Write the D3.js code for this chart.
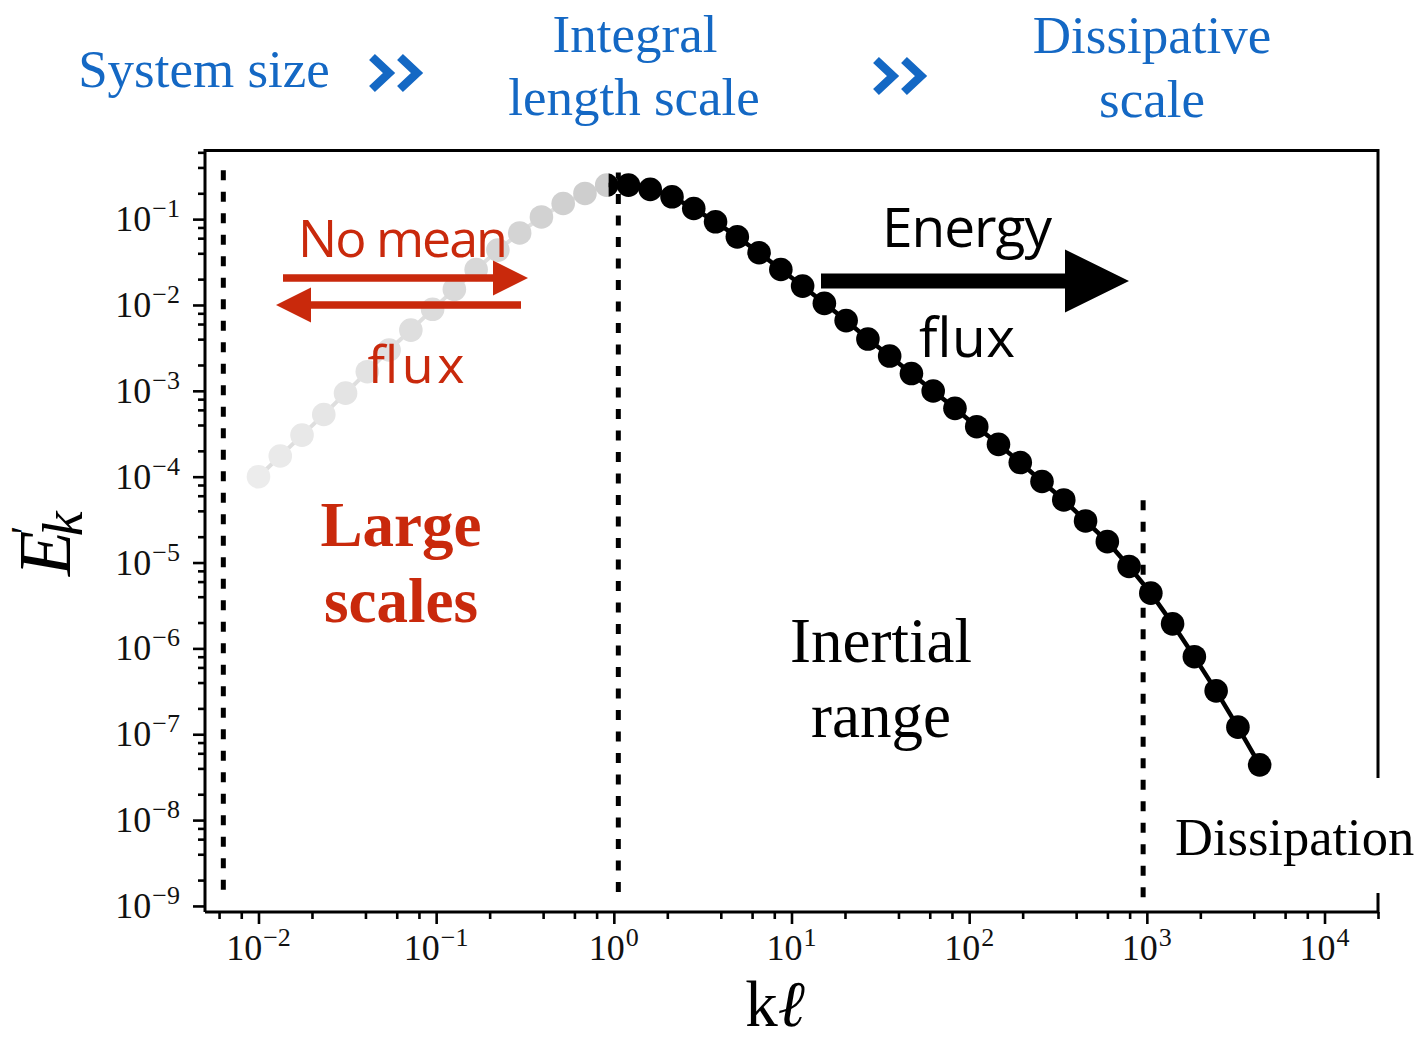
<!DOCTYPE html>
<html>
<head>
<meta charset="utf-8">
<script src="https://cdn.jsdelivr.net/npm/d3@7"></script>
<style>
  body { margin: 0; background: #fff; }
</style>
</head>
<body>
<svg id="chart" width="1419" height="1041"></svg>
<script>
// large-scale part of the spectrum (drawn in grey)
var greyK = [0.0100, 0.01326, 0.01758, 0.02331, 0.03090, 0.04097, 0.05433, 0.07204, 0.09550,
             0.1266, 0.1679, 0.2226, 0.2951, 0.3913, 0.5188, 0.6879, 0.9120];
var greyE = [1.0e-4, 1.74e-4, 3.05e-4, 5.3e-4, 9.4e-4, 1.67e-3, 2.99e-3, 5.1e-3, 8.9e-3,
             1.52e-2, 2.59e-2, 4.36e-2, 6.9e-2, 0.106, 0.152, 0.199, 0.249];

// inertial + dissipative part (black)
var blackK = [0.9120, 1.209, 1.603, 2.126, 2.818, 3.737, 4.955, 6.569, 8.710, 11.55, 15.31,
              20.30, 26.92, 35.69, 47.32, 62.73, 83.18, 110.3, 146.2, 193.9, 257.0, 340.8,
              451.9, 599.2, 794.3, 1053, 1396, 1851, 2455, 3255, 4315];
var blackE = [0.249, 0.249, 0.222, 0.182, 0.133, 0.0931, 0.0622, 0.0406, 0.0259, 0.0166, 0.01045,
              6.58e-3, 4.01e-3, 2.54e-3, 1.59e-3, 9.95e-4, 6.25e-4, 3.82e-4, 2.38e-4, 1.46e-4, 8.79e-5, 5.36e-5,
              3.05e-5, 1.75e-5, 9.0e-6, 4.40e-6, 1.93e-6, 8.0e-7, 3.2e-7, 1.21e-7, 4.4e-8];

// vertical dotted dividers
var dividerK = [0.00634, 1.06, 953];
var dividerTop = [0.37, 0.35, 5.3e-5];
var dividerBottom = 1.25e-9;

var xTickExp = [-2, -1, 0, 1, 2, 3, 4];
var yTickExp = [-9, -8, -7, -6, -5, -4, -3, -2, -1];

var svg = d3.select("#chart");
var W = 1419, H = 1041;
var pl = 205, pr = 1378, pt = 150.5, pb = 912;

var x = d3.scaleLog().domain([0.005, 20000]).range([pl, pr]);
var y = d3.scaleLog().domain([8.5e-10, 0.63]).range([pb, pt]);

var serif = "'Liberation Serif', 'Times New Roman', serif";
var comic = "'Comic Sans MS', 'Open Sans', sans-serif";
var red = "#c9290c", blue = "#1468c4";

function minors(exps) {
  var out = [];
  exps.forEach(function(e) {
    [2, 4, 6, 8].forEach(function(m) { out.push(m * Math.pow(10, e)); });
  });
  return out;
}

// ---- axes ----
var xMinor = minors([-3, -2, -1, 0, 1, 2, 3, 4]).filter(function(v){ return v >= 0.005 && v <= 20000; });
var yMinor = minors([-10, -9, -8, -7, -6, -5, -4, -3, -2, -1]).filter(function(v){ return v >= 8.5e-10 && v <= 0.63; });

var gx = svg.append("g").attr("transform", "translate(0," + pb + ")");
gx.call(d3.axisBottom(x).tickValues(xTickExp.map(function(e){ return Math.pow(10, e); }))
  .tickSize(12).tickFormat(""));
var gxm = svg.append("g").attr("transform", "translate(0," + pb + ")");
gxm.call(d3.axisBottom(x).tickValues(xMinor).tickSize(7).tickFormat(""));

var gy = svg.append("g").attr("transform", "translate(" + pl + ",0)");
gy.call(d3.axisLeft(y).tickValues(yTickExp.map(function(e){ return Math.pow(10, e); }))
  .tickSize(12).tickFormat(""));
var gym = svg.append("g").attr("transform", "translate(" + pl + ",0)");
gym.call(d3.axisLeft(y).tickValues(yMinor).tickSize(7).tickFormat(""));

[gx, gxm, gy, gym].forEach(function(g) {
  g.select(".domain").remove();
  g.selectAll(".tick line").attr("stroke", "#000").attr("stroke-width", 2.6);
});

// tick labels 10^n
function powLabel(t, e) {
  t.append("tspan").text("10");
  t.append("tspan").attr("dy", -14).attr("dx", 1).attr("font-size", 26)
    .text(e < 0 ? "\u2212" + (-e) : e);
}
xTickExp.forEach(function(e) {
  var t = svg.append("text")
    .attr("x", x(Math.pow(10, e))).attr("y", 960)
    .attr("text-anchor", "middle")
    .attr("font-family", serif).attr("font-size", 36).attr("fill", "#111");
  powLabel(t, e);
});
yTickExp.forEach(function(e) {
  var t = svg.append("text")
    .attr("x", 180).attr("y", y(Math.pow(10, e)) + 12)
    .attr("text-anchor", "end")
    .attr("font-family", serif).attr("font-size", 36).attr("fill", "#111");
  powLabel(t, e);
});

// frame
svg.append("path")
  .attr("d", "M" + pl + "," + pb + "V" + pt + "H" + pr + "V" + pb + "H" + pl)
  .attr("fill", "none").attr("stroke", "#000").attr("stroke-width", 3);

// ---- dividers ----
svg.selectAll("line.divider").data(dividerK).enter().append("line")
  .attr("class", "divider")
  .attr("x1", function(d){ return x(d); }).attr("x2", function(d){ return x(d); })
  .attr("y1", function(d, i){ return y(dividerTop[i]); })
  .attr("y2", y(dividerBottom))
  .attr("stroke", "#000").attr("stroke-width", 5)
  .attr("stroke-dasharray", "10,11.5");

// ---- spectrum ----
var line = d3.line().x(function(d){ return x(d[0]); }).y(function(d){ return y(d[1]); });
var greyPts = greyK.map(function(k, i){ return [k, greyE[i]]; });
var blackPts = blackK.map(function(k, i){ return [k, blackE[i]]; });
var shade = d3.scaleLinear().domain([0, greyPts.length - 1]).range(["#ececec", "#cccccc"]);

svg.append("path").datum(greyPts).attr("d", line)
  .attr("fill", "none").attr("stroke", "#dedede").attr("stroke-width", 4);
svg.selectAll("circle.grey").data(greyPts).enter().append("circle")
  .attr("class", "grey")
  .attr("cx", function(d){ return x(d[0]); }).attr("cy", function(d){ return y(d[1]); })
  .attr("r", 11.8).attr("fill", function(d, i){ return shade(i); });

svg.append("clipPath").attr("id", "clipBlack").append("rect")
  .attr("x", x(0.935)).attr("y", 0).attr("width", W).attr("height", H);
var gb = svg.append("g").attr("clip-path", "url(#clipBlack)");
gb.append("path").datum(blackPts).attr("d", line)
  .attr("fill", "none").attr("stroke", "#000").attr("stroke-width", 4.5);
gb.selectAll("circle").data(blackPts).enter().append("circle")
  .attr("cx", function(d){ return x(d[0]); }).attr("cy", function(d){ return y(d[1]); })
  .attr("r", 11.8).attr("fill", "#000");

// ---- annotations ----
function arrow(x0, x1, yc, shaftW, headL, headH, color) {
  var dir = x1 > x0 ? 1 : -1;
  var xb = x1 - dir * headL;
  svg.append("path")
    .attr("d", "M" + x0 + "," + (yc - shaftW / 2) + "H" + xb + "V" + (yc - headH / 2) +
      "L" + x1 + "," + yc + "L" + xb + "," + (yc + headH / 2) + "V" + (yc + shaftW / 2) +
      "H" + x0 + "Z")
    .attr("fill", color);
}
arrow(283, 528, 278, 7.5, 35, 35, red);
arrow(521, 276, 305, 7.5, 35, 35, red);
arrow(821, 1129, 281, 15, 64, 63, "#000");

svg.append("text").attr("x", 403).attr("y", 257).attr("text-anchor", "middle")
  .attr("font-family", comic).attr("font-size", 52).attr("fill", red)
  .attr("textLength", 210).text("No mean");
svg.append("text").attr("x", 416).attr("y", 383).attr("text-anchor", "middle")
  .attr("font-family", comic).attr("font-size", 52).attr("fill", red)
  .attr("textLength", 97).text("flux");
svg.append("text").attr("x", 967).attr("y", 247).attr("text-anchor", "middle")
  .attr("font-family", comic).attr("font-size", 55).attr("fill", "#000")
  .attr("textLength", 170).text("Energy");
svg.append("text").attr("x", 967).attr("y", 357).attr("text-anchor", "middle")
  .attr("font-family", comic).attr("font-size", 55).attr("fill", "#000")
  .attr("textLength", 96).text("flux");

svg.append("text").attr("x", 401).attr("y", 546).attr("text-anchor", "middle")
  .attr("font-family", serif).attr("font-weight", "bold").attr("font-size", 63).attr("fill", red)
  .text("Large");
svg.append("text").attr("x", 401).attr("y", 622).attr("text-anchor", "middle")
  .attr("font-family", serif).attr("font-weight", "bold").attr("font-size", 63).attr("fill", red)
  .text("scales");

svg.append("text").attr("x", 881).attr("y", 662).attr("text-anchor", "middle")
  .attr("font-family", serif).attr("font-size", 63).attr("fill", "#000").text("Inertial");
svg.append("text").attr("x", 881).attr("y", 737).attr("text-anchor", "middle")
  .attr("font-family", serif).attr("font-size", 63).attr("fill", "#000").text("range");

svg.append("rect").attr("x", 1162).attr("y", 778).attr("width", 257).attr("height", 115).attr("fill", "#fff");
svg.append("text").attr("x", 1175).attr("y", 855)
  .attr("font-family", serif).attr("font-size", 52.5).attr("fill", "#000").text("Dissipation");

// top banner
function banner(txt, cx, yb) {
  svg.append("text").attr("x", cx).attr("y", yb).attr("text-anchor", "middle")
    .attr("font-family", serif).attr("font-size", 53).attr("fill", blue).text(txt);
}
banner("System size", 204, 87);
banner("Integral", 635, 52);
banner("length scale", 634, 115);
banner("Dissipative", 1152, 53);
banner("scale", 1152, 117);

function chevrons(x0, yc) {
  [0, 28].forEach(function(o) {
    svg.append("path")
      .attr("d", "M" + (x0 + o) + "," + (yc - 16) + "L" + (x0 + o + 17) + "," + yc + "L" + (x0 + o) + "," + (yc + 16))
      .attr("fill", "none").attr("stroke", blue).attr("stroke-width", 8.5).attr("stroke-linejoin", "miter");
  });
}
chevrons(372, 73);
chevrons(876, 76);

// axis titles
svg.append("text").attr("x", 775).attr("y", 1026).attr("text-anchor", "middle")
  .attr("font-family", serif).attr("font-size", 65).attr("fill", "#000")
  .call(function(t) {
    t.append("tspan").text("k");
    t.append("tspan").attr("font-style", "italic").text("\u2113");
  });

var yl = svg.append("text").attr("transform", "translate(70,576) rotate(-90)")
  .attr("text-anchor", "start")
  .attr("font-family", serif).attr("font-style", "italic").attr("font-size", 74).attr("fill", "#000");
yl.append("tspan").text("E");
yl.append("tspan").attr("dy", -32).attr("dx", -6).attr("font-size", 40).text("'");
yl.append("tspan").attr("dy", 44).attr("dx", -8).attr("font-size", 56).text("k");
</script>
</body>
</html>
